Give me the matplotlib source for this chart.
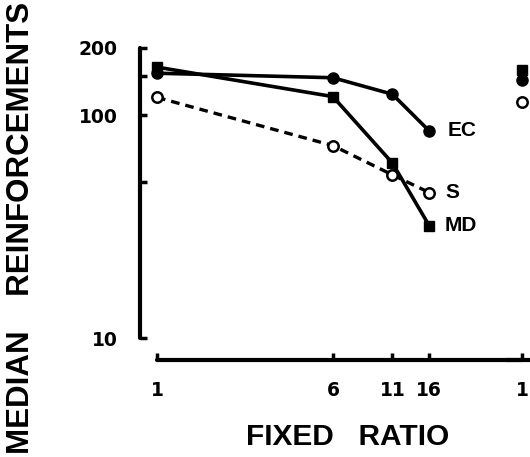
import matplotlib
matplotlib.use("Agg")
from matplotlib import pyplot as plt
from matplotlib import ticker

# fixed ratio values (log spaced on the axis)
fr = [1, 6, 11, 16]
ec = [154, 147, 124, 85]
md = [164, 121, 61, 32]
s = [120, 73, 54, 45]

# first points of the next panel (cut off at the right edge)
next_fr = [1]
next_md = [159]
next_ec = [144]
next_s = [115]

ytick_vals = [10, 50, 100, 150, 200]
ytick_labels = ['10', '', '100', '', '200']

lab_font = 'Liberation Sans'
num_font = 'DejaVu Sans'

fig = plt.figure(figsize=(5.3, 4.57), dpi=100)

ax1 = fig.add_axes([140 / 530, 97 / 457, 382 / 530, 315 / 457])
ax1.set_xscale('log')
ax1.set_yscale('log')
ax1.set_xlim(0.841, 41.2)
ax1.set_ylim(8.0, 206)
ax1.patch.set_alpha(0)

for side in ['top', 'right']:
    ax1.spines[side].set_visible(False)
ax1.spines['left'].set_bounds(10, 200)
ax1.spines['bottom'].set_bounds(1, 41.2)
for side in ['left', 'bottom']:
    ax1.spines[side].set_linewidth(3)
    ax1.spines[side].set_capstyle('round')

ax1.xaxis.set_major_locator(ticker.FixedLocator(fr))
ax1.xaxis.set_major_formatter(ticker.FixedFormatter([str(v) for v in fr]))
ax1.xaxis.set_minor_locator(ticker.NullLocator())
ax1.yaxis.set_major_locator(ticker.FixedLocator(ytick_vals))
ax1.yaxis.set_major_formatter(ticker.FixedFormatter(ytick_labels))
ax1.yaxis.set_minor_locator(ticker.NullLocator())
ax1.tick_params(axis='x', direction='in', length=5, width=2.5, pad=15)
ax1.tick_params(axis='y', direction='in', length=5, width=2.5, pad=16)
for lab in ax1.get_xticklabels() + ax1.get_yticklabels():
    lab.set_fontfamily(num_font)
    lab.set_fontweight('bold')
    lab.set_fontsize(13.5)

ax1.plot(fr, ec, color='black', linewidth=2.6, marker='o', markersize=8,
         clip_on=False, zorder=3)
ax1.plot(fr, md, color='black', linewidth=2.6, marker='s', markersize=7,
         clip_on=False, zorder=3)
ax1.plot(fr, s, color='black', linewidth=2.4, linestyle=(0, (2.6, 1.8)),
         marker='o', markersize=7.5, markerfacecolor='white',
         markeredgewidth=1.8, clip_on=False, zorder=4)

for name, vals, dx in [('EC', ec, 13), ('S', s, 12), ('MD', md, 11)]:
    ax1.annotate(name, xy=(fr[-1], vals[-1]), xytext=(dx, 0),
                 textcoords='offset points', ha='left', va='center',
                 fontsize=15, fontweight='bold', fontfamily=lab_font)

# next panel, only its first column is visible
ax2 = fig.add_axes([508 / 530, 97 / 457, 200 / 530, 315 / 457])
ax2.set_xscale('log')
ax2.set_yscale('log')
ax2.set_xlim(0.867, 6.66)
ax2.set_ylim(8.0, 206)
ax2.patch.set_alpha(0)
for side in ['top', 'right', 'left']:
    ax2.spines[side].set_visible(False)
ax2.spines['bottom'].set_linewidth(3)
ax2.spines['bottom'].set_bounds(0.867, 6.66)
ax2.xaxis.set_major_locator(ticker.FixedLocator(next_fr))
ax2.xaxis.set_major_formatter(ticker.FixedFormatter(['1']))
ax2.xaxis.set_minor_locator(ticker.NullLocator())
ax2.yaxis.set_major_locator(ticker.NullLocator())
ax2.yaxis.set_minor_locator(ticker.NullLocator())
ax2.tick_params(axis='x', direction='in', length=5, width=2.5, pad=15)
for lab in ax2.get_xticklabels():
    lab.set_fontfamily(num_font)
    lab.set_fontweight('bold')
    lab.set_fontsize(13.5)
ax2.plot(next_fr, next_ec, color='black', linestyle='none', marker='o',
         markersize=8, clip_on=False)
ax2.plot(next_fr, next_md, color='black', linestyle='none', marker='s',
         markersize=7, clip_on=False)
ax2.plot(next_fr, next_s, color='black', linestyle='none', marker='o',
         markersize=7.5, markerfacecolor='white', markeredgewidth=1.8,
         clip_on=False)

fig.text(21 / 530, 1 - 228 / 457, 'MEDIAN    REINFORCEMENTS', rotation=90,
         ha='center', va='center', fontsize=22.5, fontweight='bold',
         fontfamily=lab_font)
fig.text(348 / 530, 1 - 437 / 457, 'FIXED   RATIO', ha='center', va='center',
         fontsize=21.5, fontweight='bold', fontfamily=lab_font)

fig.savefig('out.png', dpi=100)
